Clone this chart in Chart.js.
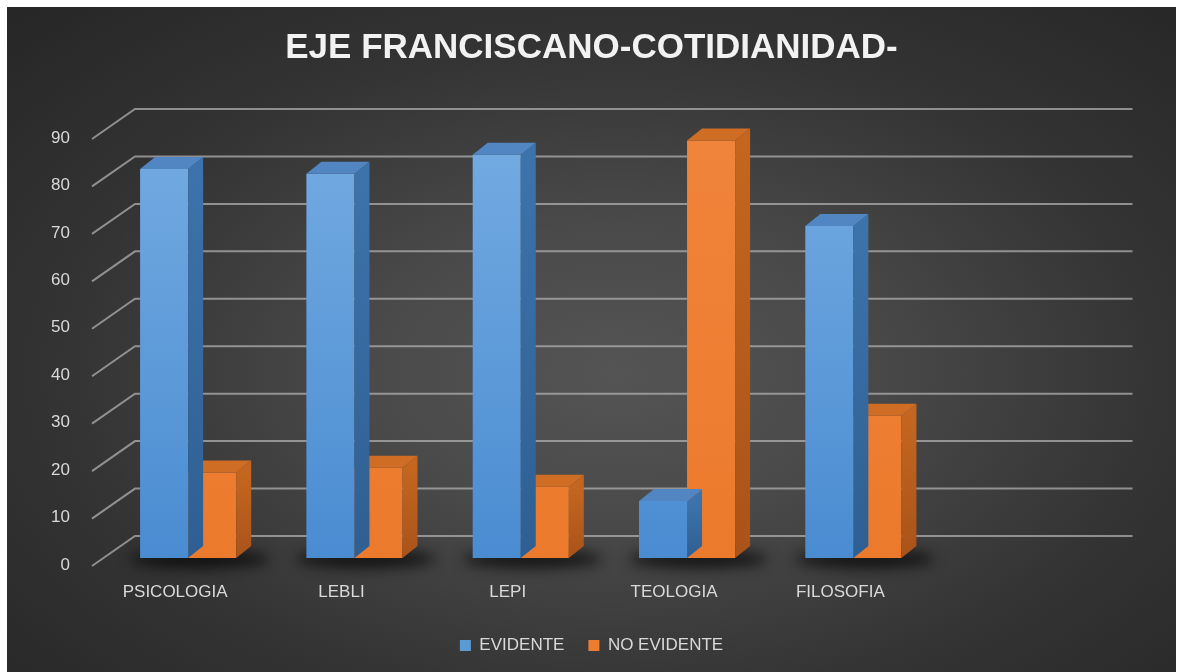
<!DOCTYPE html>
<html>
<head>
<meta charset="utf-8">
<script src="https://cdn.jsdelivr.net/npm/chart.js@4.4.1/dist/chart.umd.min.js"></script>
<style>
  html, body { margin: 0; padding: 0; background: #ffffff; }
  #wrap {
    position: absolute; left: 7px; top: 7px; width: 1169px; height: 665px;
    background: radial-gradient(ellipse farthest-corner at 52% 55%, #545454 0%, #4a4a4a 28%, #333333 65%, #262626 100%);
  }
  canvas { display: block; }
</style>
</head>
<body>
<div id="wrap"><canvas id="c" width="1169" height="665"></canvas></div>
<script>
const categories = ['PSICOLOGIA', 'LEBLI', 'LEPI', 'TEOLOGIA', 'FILOSOFIA'];
const evidente = [82, 81, 85, 12, 70];
const noEvidente = [18, 19, 15, 88, 30];
const seriesNames = ['EVIDENTE', 'NO EVIDENTE'];
const titleText = 'EJE FRANCISCANO-COTIDIANIDAD-';
const yMin = 0, yMax = 90, yStep = 10;

const DX = 15, DY = -12;           // bar depth
const BACK_DX = 30, BACK_DY = -22; // back wall offset
const FRONT_DX = -13, FRONT_DY = 8;
const labelFont = { family: "'Liberation Sans', Arial, sans-serif", size: 17 };
const textColor = '#d9d9d9';

function blueFront(ctx) {
  const ca = ctx.chart.chartArea;
  if (!ca) return '#5b9bd5';
  const g = ctx.chart.ctx.createLinearGradient(0, ca.top, 0, ca.bottom);
  g.addColorStop(0, '#74abe2');
  g.addColorStop(1, '#4a8cd1');
  return g;
}
function orangeFront(ctx) {
  const ca = ctx.chart.chartArea;
  if (!ca) return '#ed7d31';
  const g = ctx.chart.ctx.createLinearGradient(0, ca.top, 0, ca.bottom);
  g.addColorStop(0, '#f0843a');
  g.addColorStop(1, '#ec7a2d');
  return g;
}
const sideColors = [['#3d73ab', '#2f5f92'], ['#c4661f', '#a9531a']];
const topColors = ['#5286c2', '#d06d25'];

const threeD = {
  id: 'threeD',
  beforeDatasetsDraw(chart) {
    const { ctx, chartArea: ca, scales: { y } } = chart;
    ctx.save();
    ctx.strokeStyle = 'rgba(175,175,175,0.75)';
    ctx.lineWidth = 2;
    y.ticks.forEach(t => {
      const py = y.getPixelForValue(t.value);
      ctx.beginPath();
      ctx.moveTo(ca.left + FRONT_DX, py + FRONT_DY);
      ctx.lineTo(ca.left + BACK_DX, py + BACK_DY);
      ctx.lineTo(ca.right + 196, py + BACK_DY);
      ctx.stroke();
    });
    const m0 = chart.getDatasetMeta(0), m1 = chart.getDatasetMeta(1);
    ctx.filter = 'blur(7px)';
    ctx.fillStyle = 'rgba(0,0,0,0.7)';
    m0.data.forEach((b, i) => {
      const o = m1.data[i];
      const l = b.x - b.width / 2, r = o.x + o.width / 2 + DX;
      ctx.beginPath();
      ctx.ellipse((l + r) / 2 + 4, b.base + 1, (r - l) / 2 + 14, 9, 0, 0, Math.PI * 2);
      ctx.fill();
    });
    ctx.restore();
  },
  afterDatasetDraw(chart, args) {
    const { ctx } = chart;
    const idx = args.index;
    ctx.save();
    args.meta.data.forEach(b => {
      const l = b.x - b.width / 2, r = b.x + b.width / 2;
      const top = Math.min(b.y, b.base), bot = Math.max(b.y, b.base);
      const sg = ctx.createLinearGradient(0, top, 0, bot);
      sg.addColorStop(0, sideColors[idx][0]);
      sg.addColorStop(1, sideColors[idx][1]);
      ctx.fillStyle = sg;
      ctx.beginPath();
      ctx.moveTo(r, top);
      ctx.lineTo(r + DX, top + DY);
      ctx.lineTo(r + DX, bot + DY);
      ctx.lineTo(r, bot);
      ctx.closePath();
      ctx.fill();
      ctx.fillStyle = topColors[idx];
      ctx.beginPath();
      ctx.moveTo(l, top);
      ctx.lineTo(l + DX, top + DY);
      ctx.lineTo(r + DX, top + DY);
      ctx.lineTo(r, top);
      ctx.closePath();
      ctx.fill();
    });
    ctx.restore();
  }
};

new Chart(document.getElementById('c'), {
  type: 'bar',
  data: {
    labels: categories,
    datasets: [
      { label: seriesNames[0], data: evidente, backgroundColor: blueFront, borderWidth: 0 },
      { label: seriesNames[1], data: noEvidente, backgroundColor: orangeFront, borderWidth: 0 }
    ]
  },
  options: {
    responsive: false,
    animation: false,
    layout: { padding: { left: 0, right: 0, top: 0, bottom: 8 } },
    datasets: { bar: { categoryPercentage: 0.578, barPercentage: 1.0 } },
    plugins: {
      title: {
        display: true,
        text: titleText,
        color: '#f2f2f2',
        font: { family: "'Liberation Sans', Arial, sans-serif", size: 35, weight: 'bold' },
        padding: { top: 20, bottom: 62 }
      },
      legend: {
        position: 'bottom',
        labels: {
          color: textColor,
          font: labelFont,
          boxWidth: 11,
          boxHeight: 11,
          padding: 24,
          generateLabels(chart) {
            return chart.data.datasets.map((d, i) => ({
              text: d.label,
              fillStyle: i === 0 ? '#5b9bd5' : '#ed7d31',
              strokeStyle: 'transparent',
              lineWidth: 0,
              fontColor: textColor,
              datasetIndex: i
            }));
          }
        }
      },
      tooltip: { enabled: false }
    },
    scales: {
      x: {
        grid: { display: false, drawTicks: false },
        border: { display: false },
        ticks: { color: textColor, font: labelFont, padding: 24, labelOffset: -13, maxRotation: 0 },
        afterFit(s) { s.height = 55; }
      },
      y: {
        min: yMin, max: yMax,
        grid: { display: false, drawTicks: false },
        border: { display: false },
        ticks: { stepSize: yStep, color: textColor, font: labelFont, padding: 35, labelOffset: 7 },
        afterFit(s) { s.width = 98; }
      },
      yRight: {
        position: 'right',
        display: true,
        grid: { display: false, drawTicks: false },
        border: { display: false },
        ticks: { display: false },
        afterFit(s) { s.width = 239.5; }
      }
    }
  },
  plugins: [threeD]
});
</script>
</body>
</html>
